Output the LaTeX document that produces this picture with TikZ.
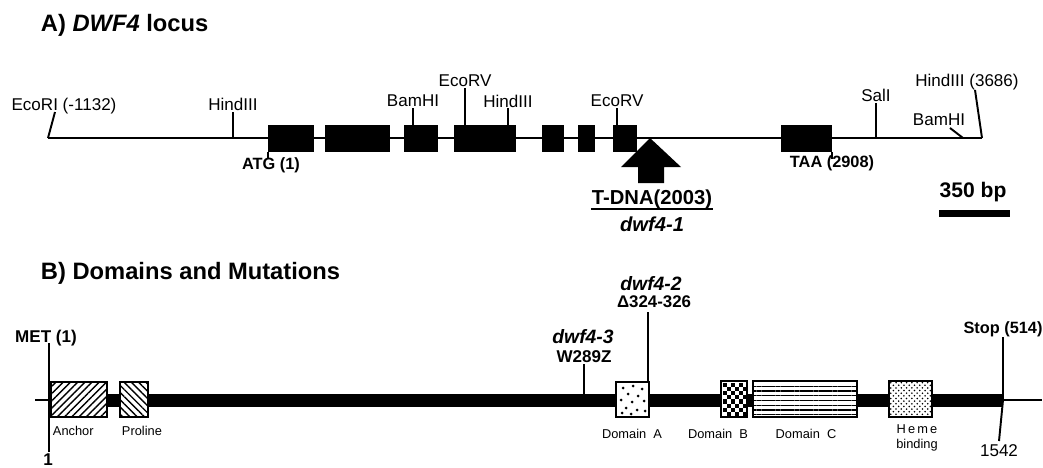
\documentclass[tikz,border=0pt]{standalone}
\usepackage{fontspec}
\setmainfont{Liberation Sans}
\usepackage{tikz}
\usetikzlibrary{patterns,patterns.meta,positioning}

\tikzset{
  heading/.style={font=\fontsize{13.5}{15}\selectfont\bfseries, inner sep=0pt, anchor=west},
  site/.style={font=\fontsize{9.7}{11}\selectfont, inner sep=0pt},
  boldlab/.style={font=\fontsize{9.3}{11}\selectfont\bfseries, inner sep=0pt},
  biglab/.style={font=\fontsize{11.5}{13}\selectfont\bfseries, inner sep=0pt},
  domlab/.style={font=\fontsize{7.3}{8.5}\selectfont, inner sep=0pt},
  dombox/.style={draw, line width=1.3pt, preaction={fill=white}},
}

\begin{document}
\begin{tikzpicture}[x=0.02cm, y=-0.02cm, line width=1.1pt]
    \useasboundingbox (0,0) rectangle (1043,467);

    % A) the locus
    \node[heading] (titleA) at (40,25) {A) \textit{DWF4} locus};
    \draw (48,138) -- (982,138);
    \foreach \a/\b in {268/314,325/390,404/438,454/516,542/564,578/595,613/637,781/832}
      \fill (\a,125) rectangle (\b,152);

    % restriction sites
    \foreach \name/\x/\base/\top/\ly [count=\i] in {HindIII/233/138/112/104,BamHI/413/125/108/101,EcoRV/465/125/88/81,HindIII/508/125/108/101,EcoRV/617/125/108/101,SalI/876/138/103/95} {
      \node[site] (site\i) at (\x,\ly) {\name};
      \draw (\x,\base) -- (\x,\top);
    }
    \node[site] (ecori) at (64,106) {EcoRI (-1132)};
    \draw (48,138) -- (55,112);
    \node[site] (hindend) at (967,82) {HindIII (3686)};
    \draw (982,138) -- (975,90);
    \node[site] (bamend) at (939,120) {BamHI};
    \draw (950,128) -- (963,138);

    \draw (268,152) -- (268,158);
    \node[boldlab] (atg) at (271,165) {ATG (1)};
    \draw (832,152) -- (832,159);
    \node[boldlab] (taa) at (832,163) {TAA (2908)};

    % T-DNA insertion
    \fill (650,138) -- (681,167) -- (664,167) -- (664,183) -- (638,183) -- (638,167) -- (621,167) -- cycle;
    \node[biglab] (tdna) at (652,199) {T-DNA(2003)};
    \draw[line width=0.9pt] ([yshift=0.2pt]tdna.south west) -- ([yshift=0.2pt]tdna.south east);
    \node[biglab] (dwf1) at (652,224) {\itshape dwf4-1};

    % scale
    \node[biglab, font=\fontsize{12}{13}\selectfont\bfseries] (bp) at (973,192) {350 bp};
    \fill (939,210) rectangle (1010,217);

    % B) the protein
    \node[heading] (titleB) at (40,273) {B) Domains and Mutations};
    \draw (35,400) -- (49,400);
    \fill (49,393.5) rectangle (1003,406.5);
    \draw (1003,400) -- (1042,400);

    \draw[dombox, pattern={Lines[angle=45,distance=2.9pt,line width=0.8pt]}] (51,382) rectangle (107,417);
    \draw[dombox, pattern={Lines[angle=-45,distance=2.9pt,line width=0.8pt]}] (120,382) rectangle (148,417);
    \draw[dombox] (616,382) rectangle (649,417);
    \foreach \px/\py in {623/388,633/386,642/389,628/394,638/396,621/400,632/402,644/401,626/408,637/410,645/411,622/413,631/414}
      \fill (\px,\py) circle (1.5);
    \draw[dombox] (721,381) rectangle (747,417);
    \foreach \r in {0,...,7}
      \foreach \c in {0,...,5} {
        \pgfmathtruncatemacro\on{mod(\r+\c,2)}
        \ifnum\on=0 \fill (722.5+\c*4,383+\r*4.1) rectangle ++(4,4.1); \fi
      }
    \draw[dombox, pattern={Lines[angle=0,distance=2.7pt,line width=0.7pt]}] (753,381) rectangle (857,417);
    \draw[dombox, pattern=crosshatch dots] (889,381) rectangle (932,417);

    \node[domlab, anchor=west] (anchor) at (52,431) {Anchor};
    \node[domlab, anchor=west] (proline) at (121,431) {Proline};
    \node[domlab] (doma) at (632,434) {Domain\ \ A};
    \node[domlab] (domb) at (718,434) {Domain\ \ B};
    \node[domlab] (domc) at (806,434) {Domain\ \ C};
    \node[domlab, align=center] (heme) at (917,438) {H\,e\,m\,e\\binding};

    % ends
    \draw (49,343) -- (49,452);
    \node[boldlab, font=\fontsize{9.7}{11}\selectfont\bfseries] (met) at (46,338) {MET (1)};
    \node[site] (first) at (48,460) {\bfseries 1};
    \draw (1003,337) -- (1003,400) -- (999,441);
    \node[boldlab] (stop) at (1003,329) {Stop (514)};
    \node[site] (last) at (999,451) {1542};

    % mutations
    \draw (584,364) -- (584,393.5);
    \node[biglab, font=\fontsize{11}{13}\selectfont\bfseries\itshape] (dwf3) at (583,337) {dwf4-3};
    \node[boldlab, font=\fontsize{9.7}{11}\selectfont\bfseries] (w289) at (584,357) {W289Z};
    \draw (648,312) -- (648,382);
    \node[biglab, font=\fontsize{11}{13}\selectfont\bfseries\itshape] (dwf2) at (651,284) {dwf4-2};
    \node[boldlab, font=\fontsize{9.6}{11}\selectfont\bfseries] (del) at (654,302) {Δ324-326};
\end{tikzpicture}
\end{document}
